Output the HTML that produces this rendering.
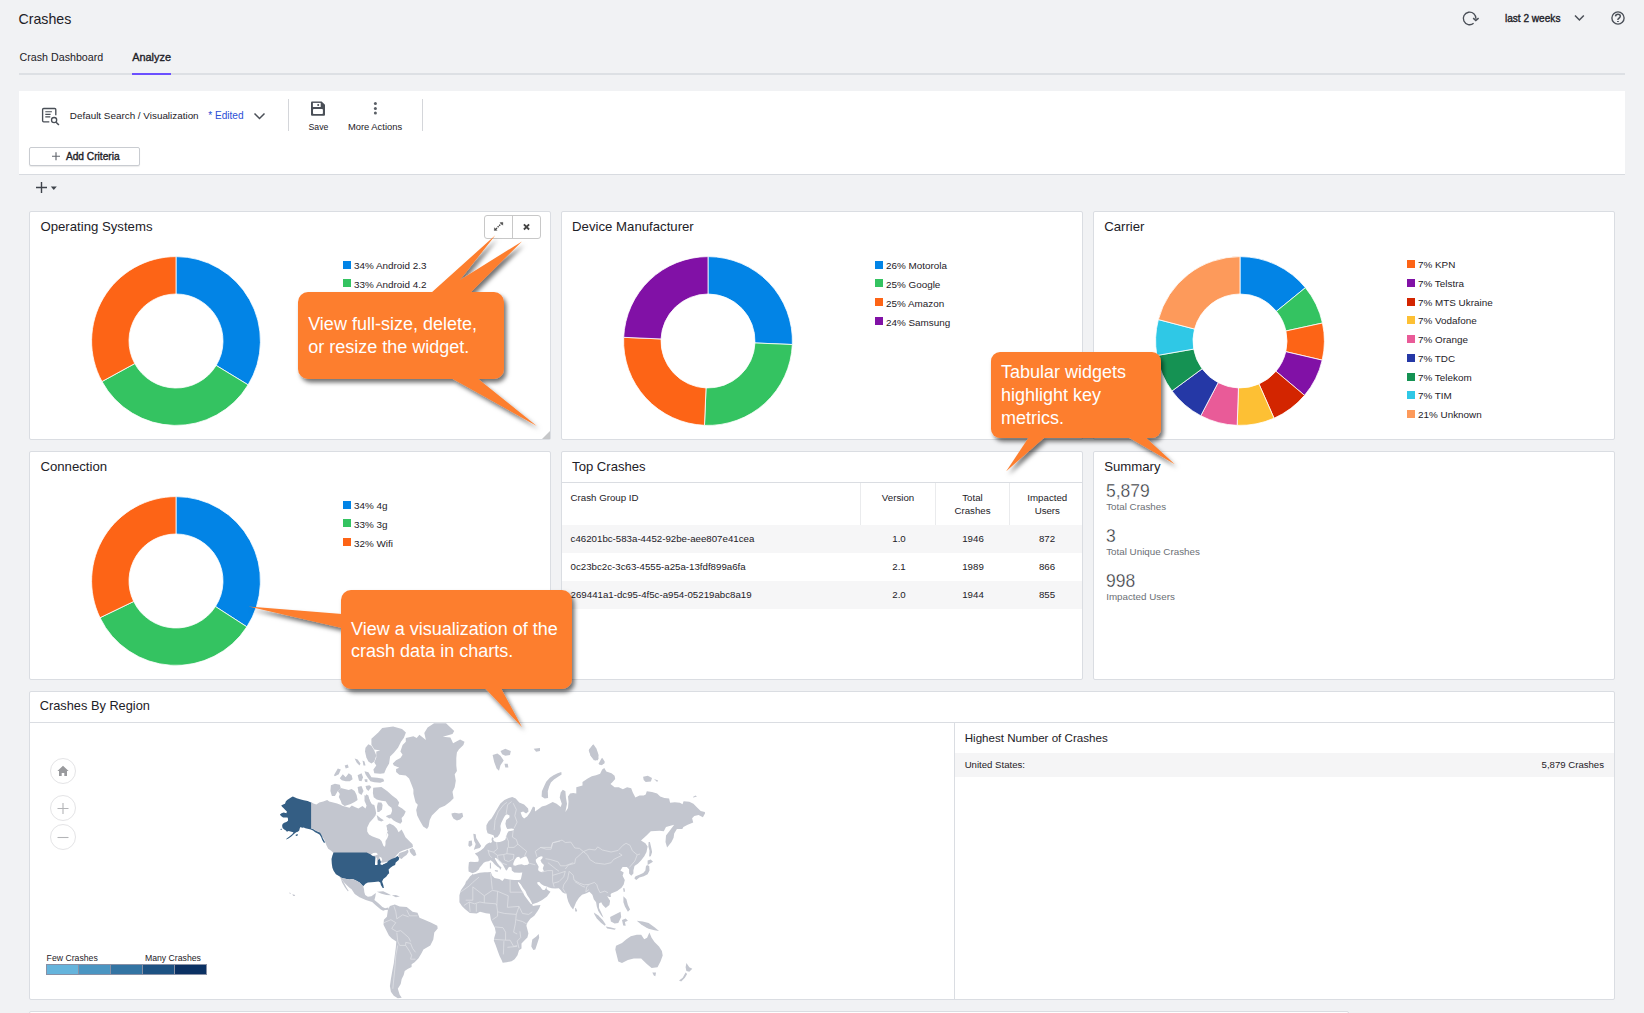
<!DOCTYPE html>
<html><head><meta charset="utf-8"><title>Crashes</title>
<style>
html,body{margin:0;padding:0;}
body{width:1644px;height:1013px;overflow:hidden;background:#f1f2f4;position:relative;font-family:"Liberation Sans", Arial, Helvetica, sans-serif;}
.t{position:absolute;line-height:1;white-space:nowrap;}
.r{position:absolute;}
svg.r{overflow:visible;}
#ov{position:absolute;left:0;top:0;}
</style></head><body>
<div class="t" style="left:18.50px;top:12.08px;font-size:14.2px;color:#1d2127;">Crashes</div>
<div class="t" style="left:19.50px;top:51.74px;font-size:10.7px;color:#1d2127;">Crash Dashboard</div>
<div class="t" style="left:132.20px;top:52.07px;font-size:10.9px;color:#1d2127;-webkit-text-stroke:0.35px #1d2127;">Analyze</div>
<div class="r" style="left:19px;top:73px;width:1606px;height:2px;background:#dde0e4"></div>
<div class="r" style="left:132px;top:73px;width:39px;height:2px;background:#6b50ff"></div>
<svg class="r" style="left:1458px;top:6px" width="26" height="24" viewBox="0 0 26 24">
<path d="M15.6 17.3 A6.3 6.3 0 1 1 17.9 12.9" fill="none" stroke="#4a4f57" stroke-width="1.35"/>
<path d="M15.2 12.1 L17.8 14.6 L20.6 12.1" fill="none" stroke="#4a4f57" stroke-width="1.5" stroke-linejoin="miter"/></svg>
<div class="t" style="left:1504.90px;top:13.85px;font-size:10.1px;color:#1d2127;-webkit-text-stroke:0.35px #1d2127;">last 2 weeks</div>
<svg class="r" style="left:1574px;top:14px" width="11" height="8" viewBox="0 0 11 8">
<path d="M1 1.5 L5.4 6 L9.8 1.5" fill="none" stroke="#4a4f57" stroke-width="1.5"/></svg>
<svg class="r" style="left:1606px;top:6px" width="24" height="24" viewBox="0 0 24 24">
<circle cx="12" cy="12" r="6.1" fill="none" stroke="#4a4f57" stroke-width="1.35"/>
<path d="M9.5 10.4 C9.6 8.9 10.6 8.2 11.9 8.2 C13.3 8.2 14.3 9.1 14.3 10.3 C14.3 11.6 12.9 12 12.2 12.9 C11.9 13.3 11.9 13.7 11.9 14.1" fill="none" stroke="#4a4f57" stroke-width="1.45"/>
<rect x="11" y="15.1" width="1.9" height="0.9" fill="#4a4f57"/></svg>
<div class="r" style="left:19px;top:91px;width:1606px;height:83px;background:#fff;border-bottom:1px solid #d8dbe0"></div>
<svg class="r" style="left:36px;top:102px" width="30" height="28" viewBox="0 0 30 28">
<path d="M19.8 13.3 V7.6 Q19.8 6.5 18.7 6.5 H7.7 Q6.6 6.5 6.6 7.6 V18.7 Q6.6 19.8 7.7 19.8 H13.3" fill="none" stroke="#4a4f57" stroke-width="1.35"/>
<path d="M9.3 9.7 H15.9 M9.3 12.4 H14.6 M9.3 14.9 H14.3" stroke="#4a4f57" stroke-width="1.1"/>
<circle cx="18.1" cy="18.1" r="2.6" fill="none" stroke="#4a4f57" stroke-width="1.3"/>
<path d="M20.1 20.2 L22.9 23.1" stroke="#4a4f57" stroke-width="1.5"/></svg>
<div class="t" style="left:69.80px;top:110.82px;font-size:9.9px;color:#1d2127;">Default Search / Visualization</div>
<div class="t" style="left:208.20px;top:110.65px;font-size:10.1px;color:#2c4fd6;">* Edited</div>
<svg class="r" style="left:253px;top:111px" width="13" height="10" viewBox="0 0 13 10">
<path d="M1.5 2.5 L6.5 7.5 L11.5 2.5" fill="none" stroke="#4a4f57" stroke-width="1.5"/></svg>
<div class="r" style="left:288px;top:99px;width:1px;height:32px;background:#d4d6da"></div>
<div class="r" style="left:422px;top:99px;width:1px;height:32px;background:#d4d6da"></div>
<svg class="r" style="left:306px;top:97px" width="26" height="24" viewBox="0 0 26 24">
<path d="M5 5.4 Q5 4.4 6 4.4 H15.6 L19 7.8 V17.7 Q19 18.7 18 18.7 H6 Q5 18.7 5 17.7 Z" fill="#4a4f57"/>
<rect x="6.9" y="5.9" width="7.8" height="4.1" fill="#fff"/>
<circle cx="12.2" cy="7.9" r="1" fill="#4a4f57"/>
<rect x="7" y="12.1" width="9.9" height="5" rx="0.8" fill="#fff"/></svg>
<div class="t" style="left:308.50px;top:122.84px;font-size:8.7px;color:#1d2127;">Save</div>
<svg class="r" style="left:372px;top:100px" width="7" height="17" viewBox="0 0 7 17">
<circle cx="3.4" cy="3.6" r="1.5" fill="#5a5f66"/><circle cx="3.4" cy="8.5" r="1.5" fill="#5a5f66"/><circle cx="3.4" cy="13.1" r="1.5" fill="#5a5f66"/></svg>
<div class="t" style="left:347.90px;top:122.24px;font-size:9.4px;color:#1d2127;">More Actions</div>
<div class="r" style="left:29px;top:147px;width:109px;height:17px;background:#fff;border:1px solid #c9ccd1;border-radius:2px;box-shadow:0 1px 1px rgba(0,0,0,0.08)"></div>
<svg class="r" style="left:51px;top:151px" width="10" height="10" viewBox="0 0 10 10">
<path d="M5 1.2 V9.2 M1 5.2 H9" stroke="#62666d" stroke-width="1.15"/></svg>
<div class="t" style="left:65.90px;top:151.57px;font-size:10.2px;color:#1d2127;-webkit-text-stroke:0.35px #1d2127;">Add Criteria</div>
<svg class="r" style="left:35px;top:181px" width="24" height="13" viewBox="0 0 24 13">
<path d="M6.5 1 V12 M1 6.5 H12" stroke="#3f444b" stroke-width="1.4"/>
<path d="M15.8 5.4 H21.8 L18.8 9 Z" fill="#3f444b"/></svg>
<div class="r" style="left:29px;top:211px;width:520px;height:227px;background:#fff;border:1px solid #dadde2;border-radius:2px"></div>
<div class="r" style="left:561px;top:211px;width:520px;height:227px;background:#fff;border:1px solid #dadde2;border-radius:2px"></div>
<div class="r" style="left:1093px;top:211px;width:520px;height:227px;background:#fff;border:1px solid #dadde2;border-radius:2px"></div>
<div class="r" style="left:29px;top:451px;width:520px;height:227px;background:#fff;border:1px solid #dadde2;border-radius:2px"></div>
<div class="r" style="left:561px;top:451px;width:520px;height:227px;background:#fff;border:1px solid #dadde2;border-radius:2px"></div>
<div class="r" style="left:1093px;top:451px;width:520px;height:227px;background:#fff;border:1px solid #dadde2;border-radius:2px"></div>
<div class="r" style="left:29px;top:691px;width:1584px;height:307px;background:#fff;border:1px solid #dadde2;border-radius:2px"></div>
<div class="r" style="left:29px;top:1011px;width:1318px;height:38px;background:#fff;border:1px solid #dadde2;border-radius:2px"></div>
<div class="r" style="left:343px;top:261px;width:8px;height:8px;background:#0284e6"></div>
<div class="t" style="left:354.00px;top:261.42px;font-size:9.9px;color:#1d2127;">34% Android 2.3</div>
<div class="r" style="left:343px;top:279px;width:8px;height:8px;background:#34c361"></div>
<div class="t" style="left:354.00px;top:280.25px;font-size:9.9px;color:#1d2127;">33% Android 4.2</div>
<div class="r" style="left:875px;top:261px;width:8px;height:8px;background:#0284e6"></div>
<div class="t" style="left:886.00px;top:261.42px;font-size:9.9px;color:#1d2127;">26% Motorola</div>
<div class="r" style="left:875px;top:279px;width:8px;height:8px;background:#34c361"></div>
<div class="t" style="left:886.00px;top:280.25px;font-size:9.9px;color:#1d2127;">25% Google</div>
<div class="r" style="left:875px;top:298px;width:8px;height:8px;background:#fd6416"></div>
<div class="t" style="left:886.00px;top:299.08px;font-size:9.9px;color:#1d2127;">25% Amazon</div>
<div class="r" style="left:875px;top:317px;width:8px;height:8px;background:#8111a6"></div>
<div class="t" style="left:886.00px;top:317.91px;font-size:9.9px;color:#1d2127;">24% Samsung</div>
<div class="r" style="left:1407px;top:260px;width:8px;height:8px;background:#fd6416"></div>
<div class="t" style="left:1418.00px;top:260.22px;font-size:9.9px;color:#1d2127;">7% KPN</div>
<div class="r" style="left:1407px;top:279px;width:8px;height:8px;background:#8111a6"></div>
<div class="t" style="left:1418.00px;top:278.94px;font-size:9.9px;color:#1d2127;">7% Telstra</div>
<div class="r" style="left:1407px;top:298px;width:8px;height:8px;background:#d32500"></div>
<div class="t" style="left:1418.00px;top:297.66px;font-size:9.9px;color:#1d2127;">7% MTS Ukraine</div>
<div class="r" style="left:1407px;top:316px;width:8px;height:8px;background:#fdc034"></div>
<div class="t" style="left:1418.00px;top:316.38px;font-size:9.9px;color:#1d2127;">7% Vodafone</div>
<div class="r" style="left:1407px;top:335px;width:8px;height:8px;background:#e95b98"></div>
<div class="t" style="left:1418.00px;top:335.10px;font-size:9.9px;color:#1d2127;">7% Orange</div>
<div class="r" style="left:1407px;top:354px;width:8px;height:8px;background:#2538a6"></div>
<div class="t" style="left:1418.00px;top:353.82px;font-size:9.9px;color:#1d2127;">7% TDC</div>
<div class="r" style="left:1407px;top:373px;width:8px;height:8px;background:#159253"></div>
<div class="t" style="left:1418.00px;top:372.54px;font-size:9.9px;color:#1d2127;">7% Telekom</div>
<div class="r" style="left:1407px;top:391px;width:8px;height:8px;background:#2fc8e6"></div>
<div class="t" style="left:1418.00px;top:391.26px;font-size:9.9px;color:#1d2127;">7% TIM</div>
<div class="r" style="left:1407px;top:410px;width:8px;height:8px;background:#fd9a5b"></div>
<div class="t" style="left:1418.00px;top:409.98px;font-size:9.9px;color:#1d2127;">21% Unknown</div>
<div class="r" style="left:343px;top:501px;width:8px;height:8px;background:#0284e6"></div>
<div class="t" style="left:354.00px;top:501.42px;font-size:9.9px;color:#1d2127;">34% 4g</div>
<div class="r" style="left:343px;top:519px;width:8px;height:8px;background:#34c361"></div>
<div class="t" style="left:354.00px;top:520.25px;font-size:9.9px;color:#1d2127;">33% 3g</div>
<div class="r" style="left:343px;top:538px;width:8px;height:8px;background:#fd6416"></div>
<div class="t" style="left:354.00px;top:539.08px;font-size:9.9px;color:#1d2127;">32% Wifi</div>
<div class="t" style="left:40.40px;top:219.83px;font-size:13.2px;color:#1d2127;">Operating Systems</div>
<div class="t" style="left:572.10px;top:219.83px;font-size:13.2px;color:#1d2127;">Device Manufacturer</div>
<div class="t" style="left:1104.20px;top:219.83px;font-size:13.2px;color:#1d2127;">Carrier</div>
<div class="t" style="left:40.40px;top:460.03px;font-size:13.2px;color:#1d2127;">Connection</div>
<div class="t" style="left:572.10px;top:460.11px;font-size:13.1px;color:#1d2127;">Top Crashes</div>
<div class="t" style="left:1104.20px;top:460.03px;font-size:13.2px;color:#1d2127;">Summary</div>
<div class="t" style="left:39.70px;top:699.76px;font-size:12.8px;color:#1d2127;">Crashes By Region</div>
<div class="r" style="left:484px;top:215px;width:55px;height:22px;background:#fff;border:1px solid #c8c8c8;border-radius:3px"></div>
<div class="r" style="left:512px;top:216px;width:1px;height:22px;background:#c8c8c8"></div>
<svg class="r" style="left:492px;top:220px" width="13" height="13" viewBox="0 0 13 13">
<path d="M4.1 8.8 L9.1 3.8" stroke="#444" stroke-width="1.4" stroke-dasharray="1.3 0.9"/>
<path d="M10.9 2.4 L8.1 2.6 L10.7 5.2 Z" fill="#444" stroke="#444" stroke-width="0.4"/><path d="M2.3 10.5 L2.5 7.7 L5.1 10.3 Z" fill="#444" stroke="#444" stroke-width="0.4"/></svg>
<svg class="r" style="left:521px;top:222px" width="11" height="11" viewBox="0 0 11 11">
<path d="M2.9 2.3 L8.1 7.5 M8.1 2.3 L2.9 7.5" stroke="#444" stroke-width="1.85"/></svg>
<svg class="r" style="left:540px;top:429px" width="11" height="11" viewBox="0 0 11 11"><path d="M2 10 L10 10 L10 2 Z" fill="#c6c7c9"/></svg>
<div class="r" style="left:562px;top:482px;width:520px;height:1px;background:#dadde2"></div>
<div class="r" style="left:860px;top:483px;width:1px;height:42px;background:#eaebed"></div>
<div class="r" style="left:935px;top:483px;width:1px;height:42px;background:#eaebed"></div>
<div class="r" style="left:1009px;top:483px;width:1px;height:42px;background:#eaebed"></div>
<div class="r" style="left:562px;top:525px;width:520px;height:28px;background:#f6f6f7"></div>
<div class="r" style="left:562px;top:581px;width:520px;height:28px;background:#f6f6f7"></div>
<div class="t" style="left:570.60px;top:492.69px;font-size:9.7px;color:#1d2127;">Crash Group ID</div>
<div class="t" style="left:798.00px;width:200px;text-align:center;top:492.69px;font-size:9.7px;color:#1d2127;">Version</div>
<div class="t" style="left:872.50px;width:200px;text-align:center;top:493.19px;font-size:9.7px;color:#1d2127;">Total</div>
<div class="t" style="left:872.50px;width:200px;text-align:center;top:505.99px;font-size:9.7px;color:#1d2127;">Crashes</div>
<div class="t" style="left:947.30px;width:200px;text-align:center;top:493.19px;font-size:9.7px;color:#1d2127;">Impacted</div>
<div class="t" style="left:947.30px;width:200px;text-align:center;top:505.99px;font-size:9.7px;color:#1d2127;">Users</div>
<div class="t" style="left:570.60px;top:533.79px;font-size:9.7px;color:#1d2127;">c46201bc-583a-4452-92be-aee807e41cea</div>
<div class="t" style="left:799.00px;width:200px;text-align:center;top:533.79px;font-size:9.7px;color:#1d2127;">1.0</div>
<div class="t" style="left:873.00px;width:200px;text-align:center;top:533.79px;font-size:9.7px;color:#1d2127;">1946</div>
<div class="t" style="left:947.00px;width:200px;text-align:center;top:533.79px;font-size:9.7px;color:#1d2127;">872</div>
<div class="t" style="left:570.60px;top:561.69px;font-size:9.7px;color:#1d2127;">0c23bc2c-3c63-4555-a25a-13fdf899a6fa</div>
<div class="t" style="left:799.00px;width:200px;text-align:center;top:561.69px;font-size:9.7px;color:#1d2127;">2.1</div>
<div class="t" style="left:873.00px;width:200px;text-align:center;top:561.69px;font-size:9.7px;color:#1d2127;">1989</div>
<div class="t" style="left:947.00px;width:200px;text-align:center;top:561.69px;font-size:9.7px;color:#1d2127;">866</div>
<div class="t" style="left:570.60px;top:589.59px;font-size:9.7px;color:#1d2127;">269441a1-dc95-4f5c-a954-05219abc8a19</div>
<div class="t" style="left:799.00px;width:200px;text-align:center;top:589.59px;font-size:9.7px;color:#1d2127;">2.0</div>
<div class="t" style="left:873.00px;width:200px;text-align:center;top:589.59px;font-size:9.7px;color:#1d2127;">1944</div>
<div class="t" style="left:947.00px;width:200px;text-align:center;top:589.59px;font-size:9.7px;color:#1d2127;">855</div>
<div class="t" style="left:1106.00px;top:483.39px;font-size:17.5px;color:#2a2e34;-webkit-text-stroke:0.35px #fff;">5,879</div>
<div class="t" style="left:1106.20px;top:501.80px;font-size:9.8px;color:#6b6f75;">Total Crashes</div>
<div class="t" style="left:1106.00px;top:528.09px;font-size:17.5px;color:#2a2e34;-webkit-text-stroke:0.35px #fff;">3</div>
<div class="t" style="left:1106.20px;top:546.75px;font-size:9.8px;color:#6b6f75;">Total Unique Crashes</div>
<div class="t" style="left:1106.00px;top:572.79px;font-size:17.5px;color:#2a2e34;-webkit-text-stroke:0.35px #fff;">998</div>
<div class="t" style="left:1106.20px;top:591.70px;font-size:9.8px;color:#6b6f75;">Impacted Users</div>
<div class="r" style="left:30px;top:722px;width:1584px;height:1px;background:#dadde2"></div>
<div class="r" style="left:954px;top:723px;width:1px;height:276px;background:#dadde2"></div>
<div class="t" style="left:964.70px;top:732.18px;font-size:11.6px;color:#1d2127;">Highest Number of Crashes</div>
<div class="r" style="left:955px;top:753px;width:659px;height:24px;background:#f5f5f6"></div>
<div class="t" style="left:964.70px;top:760.47px;font-size:9.6px;color:#1d2127;">United States:</div>
<div class="t" style="left:1204.00px;width:400px;text-align:right;top:760.47px;font-size:9.6px;color:#1d2127;">5,879 Crashes</div>
<div class="r" style="left:49.5px;top:757.5px;width:26px;height:26px;background:#fff;border:1px solid #e4e4e6;border-radius:50%;box-sizing:border-box"></div>
<div class="r" style="left:49.5px;top:794.5px;width:26px;height:26px;background:#fff;border:1px solid #e4e4e6;border-radius:50%;box-sizing:border-box"></div>
<div class="r" style="left:49.5px;top:823.5px;width:26px;height:26px;background:#fff;border:1px solid #e4e4e6;border-radius:50%;box-sizing:border-box"></div>
<svg class="r" style="left:56px;top:764px" width="14" height="14" viewBox="0 0 14 14"><path d="M7 1.8 L12.6 7 H11 V12 H8.3 V9 H5.7 V12 H3 V7 H1.4 Z" fill="#999a9d"/></svg>
<svg class="r" style="left:56px;top:801px" width="14" height="14" viewBox="0 0 14 14"><path d="M7 2 V13 M1.5 7.5 H12.5" stroke="#b3b4b7" stroke-width="1.1"/></svg>
<svg class="r" style="left:56px;top:830px" width="14" height="14" viewBox="0 0 14 14"><path d="M1.5 7.5 H12.5" stroke="#b3b4b7" stroke-width="1.1"/></svg>
<div class="t" style="left:46.60px;top:954.44px;font-size:8.7px;color:#1d2127;font-family:"DejaVu Sans",sans-serif;">Few Crashes</div>
<div class="t" style="left:144.90px;top:954.44px;font-size:8.7px;color:#1d2127;font-family:"DejaVu Sans",sans-serif;">Many Crashes</div>
<div class="r" style="left:46px;top:964px;width:161px;height:11px;background:#8890a5"></div>
<div class="r" style="left:47px;top:965px;width:31px;height:9px;background:#65b4dc"></div>
<div class="r" style="left:79px;top:965px;width:31px;height:9px;background:#4a95c2"></div>
<div class="r" style="left:111px;top:965px;width:31px;height:9px;background:#3374a3"></div>
<div class="r" style="left:143px;top:965px;width:31px;height:9px;background:#1d5283"></div>
<div class="r" style="left:175px;top:965px;width:31px;height:9px;background:#0b3163"></div>
<svg id="ov" width="1644" height="1013" viewBox="0 0 1644 1013">
<defs><filter id="sh" x="-20%" y="-20%" width="150%" height="160%"><feDropShadow dx="2.5" dy="3.5" stdDeviation="2.2" flood-color="#000" flood-opacity="0.55"/></filter></defs>
<path d="M176.00,256.60 A84.4,84.4 0 0 1 248.12,384.85 L216.16,365.42 A47,47 0 0 0 176.00,294.00 Z" fill="#0284e6" stroke="#fff" stroke-width="0.8" stroke-linejoin="round"/>
<path d="M248.12,384.85 A84.4,84.4 0 0 1 101.97,381.53 L134.77,363.57 A47,47 0 0 0 216.16,365.42 Z" fill="#34c361" stroke="#fff" stroke-width="0.8" stroke-linejoin="round"/>
<path d="M101.97,381.53 A84.4,84.4 0 0 1 176.00,256.60 L176.00,294.00 A47,47 0 0 0 134.77,363.57 Z" fill="#fd6416" stroke="#fff" stroke-width="0.8" stroke-linejoin="round"/>
<path d="M708.00,256.60 A84.4,84.4 0 0 1 792.33,344.53 L754.96,342.97 A47,47 0 0 0 708.00,294.00 Z" fill="#0284e6" stroke="#fff" stroke-width="0.8" stroke-linejoin="round"/>
<path d="M792.33,344.53 A84.4,84.4 0 0 1 704.47,425.33 L706.03,387.96 A47,47 0 0 0 754.96,342.97 Z" fill="#34c361" stroke="#fff" stroke-width="0.8" stroke-linejoin="round"/>
<path d="M704.47,425.33 A84.4,84.4 0 0 1 623.68,337.32 L661.04,338.95 A47,47 0 0 0 706.03,387.96 Z" fill="#fd6416" stroke="#fff" stroke-width="0.8" stroke-linejoin="round"/>
<path d="M623.68,337.32 A84.4,84.4 0 0 1 708.00,256.60 L708.00,294.00 A47,47 0 0 0 661.04,338.95 Z" fill="#8111a6" stroke="#fff" stroke-width="0.8" stroke-linejoin="round"/>
<path d="M1240.00,256.60 A84.4,84.4 0 0 1 1305.41,287.66 L1276.42,311.29 A47,47 0 0 0 1240.00,294.00 Z" fill="#0284e6" stroke="#fff" stroke-width="0.8" stroke-linejoin="round"/>
<path d="M1305.41,287.66 A84.4,84.4 0 0 1 1322.46,323.02 L1285.92,330.99 A47,47 0 0 0 1276.42,311.29 Z" fill="#34c361" stroke="#fff" stroke-width="0.8" stroke-linejoin="round"/>
<path d="M1322.46,323.02 A84.4,84.4 0 0 1 1322.20,360.13 L1285.78,351.65 A47,47 0 0 0 1285.92,330.99 Z" fill="#fd6416" stroke="#fff" stroke-width="0.8" stroke-linejoin="round"/>
<path d="M1322.20,360.13 A84.4,84.4 0 0 1 1304.56,395.36 L1275.95,371.27 A47,47 0 0 0 1285.78,351.65 Z" fill="#8111a6" stroke="#fff" stroke-width="0.8" stroke-linejoin="round"/>
<path d="M1304.56,395.36 A84.4,84.4 0 0 1 1274.06,418.22 L1258.97,384.00 A47,47 0 0 0 1275.95,371.27 Z" fill="#d32500" stroke="#fff" stroke-width="0.8" stroke-linejoin="round"/>
<path d="M1274.06,418.22 A84.4,84.4 0 0 1 1237.20,425.35 L1238.44,387.97 A47,47 0 0 0 1258.97,384.00 Z" fill="#fdc034" stroke="#fff" stroke-width="0.8" stroke-linejoin="round"/>
<path d="M1237.20,425.35 A84.4,84.4 0 0 1 1200.77,415.73 L1218.15,382.61 A47,47 0 0 0 1238.44,387.97 Z" fill="#e95b98" stroke="#fff" stroke-width="0.8" stroke-linejoin="round"/>
<path d="M1200.77,415.73 A84.4,84.4 0 0 1 1171.98,390.97 L1202.12,368.82 A47,47 0 0 0 1218.15,382.61 Z" fill="#2538a6" stroke="#fff" stroke-width="0.8" stroke-linejoin="round"/>
<path d="M1171.98,390.97 A84.4,84.4 0 0 1 1156.86,355.51 L1193.70,349.08 A47,47 0 0 0 1202.12,368.82 Z" fill="#159253" stroke="#fff" stroke-width="0.8" stroke-linejoin="round"/>
<path d="M1156.86,355.51 A84.4,84.4 0 0 1 1158.36,319.58 L1194.54,329.07 A47,47 0 0 0 1193.70,349.08 Z" fill="#2fc8e6" stroke="#fff" stroke-width="0.8" stroke-linejoin="round"/>
<path d="M1158.36,319.58 A84.4,84.4 0 0 1 1240.00,256.60 L1240.00,294.00 A47,47 0 0 0 1194.54,329.07 Z" fill="#fd9a5b" stroke="#fff" stroke-width="0.8" stroke-linejoin="round"/>
<path d="M176.00,496.60 A84.4,84.4 0 0 1 246.86,626.84 L215.46,606.53 A47,47 0 0 0 176.00,534.00 Z" fill="#0284e6" stroke="#fff" stroke-width="0.8" stroke-linejoin="round"/>
<path d="M246.86,626.84 A84.4,84.4 0 0 1 100.01,617.73 L133.69,601.46 A47,47 0 0 0 215.46,606.53 Z" fill="#34c361" stroke="#fff" stroke-width="0.8" stroke-linejoin="round"/>
<path d="M100.01,617.73 A84.4,84.4 0 0 1 176.00,496.60 L176.00,534.00 A47,47 0 0 0 133.69,601.46 Z" fill="#fd6416" stroke="#fff" stroke-width="0.8" stroke-linejoin="round"/>
<g><path fill="#c3c6cf" d="M311.0,801.9 313.4,803.4 316.4,804.4 319.3,802.4 323.3,801.4 327.2,800.0 329.2,801.4 333.2,802.4 337.1,803.4 341.1,804.9 343.0,806.4 340.0,804.9 343.0,806.1 349.5,807.8 351.8,805.5 355.4,807.2 358.4,808.4 362.5,806.1 365.5,808.4 366.6,805.5 365.5,797.8 366.1,794.2 368.4,795.4 369.6,801.3 372.0,804.3 374.3,804.9 375.5,809.6 376.1,813.2 375.5,815.5 373.2,818.5 369.6,822.6 367.2,827.4 367.2,831.5 369.0,834.5 372.0,836.2 376.6,838.0 379.5,838.9 381.5,840.9 383.5,845.9 385.0,846.8 385.5,843.9 385.5,840.9 387.4,838.0 388.4,835.0 387.4,832.0 386.9,829.1 387.4,826.1 388.4,824.1 386.3,837.3 387.8,831.3 386.3,825.4 389.7,823.4 393.7,825.4 396.7,828.4 398.6,832.3 401.6,829.4 403.6,833.3 405.5,837.3 409.5,841.2 412.5,844.2 413.0,847.1 410.5,848.1 407.5,849.1 403.6,850.3 399.6,852.1 396.7,855.0 393.7,859.0 392.7,861.0 389.7,862.0 385.8,862.5 379.9,862.7 373.9,862.7 370.0,862.7 333.2,854.7 333.2,852.8 331.2,850.8 328.2,848.8 326.3,844.9 324.3,839.4 322.3,837.0 320.3,834.0 318.4,831.5 316.4,831.1 313.4,829.1 311.0,828.1Z"/>
<path fill="#c3c6cf" d="M398.1,855.5 399.6,853.1 402.6,851.9 405.5,851.1 408.0,849.6 408.5,852.1 406.5,855.0 403.6,857.0 401.6,859.0 399.6,858.0Z"/>
<path fill="#c3c6cf" d="M409.5,849.6 412.5,848.1 414.9,850.6 416.4,855.0 413.9,856.2 411.5,854.1 410.0,852.1Z"/>
<path fill="#345e84" d="M292.9,796.4 294.5,797.2 296.7,798.3 300.0,799.2 303.8,800.2 307.6,801.0 311.1,802.4 311.1,828.4 313.0,829.0 315.2,830.6 317.9,831.7 320.1,832.8 321.7,835.5 322.8,838.2 324.1,840.4 325.2,842.5 323.9,842.8 322.2,840.0 321.1,837.1 319.5,834.4 317.3,833.3 315.2,832.2 313.0,830.6 310.8,829.5 308.7,828.9 305.4,828.2 303.8,827.6 302.1,827.8 300.5,826.9 299.7,828.4 299.2,830.6 297.8,831.7 296.2,832.3 294.0,833.9 291.3,836.6 288.0,838.7 285.9,839.6 286.7,838.5 289.7,836.3 292.4,833.9 293.5,832.2 291.3,831.7 288.6,831.1 286.9,831.7 285.9,830.6 284.2,829.5 282.6,827.9 282.1,825.7 282.6,824.1 284.2,822.7 286.4,821.9 288.0,820.8 288.0,818.7 287.5,817.6 285.9,817.6 283.1,817.6 281.0,815.9 279.9,814.6 281.5,813.2 283.7,812.4 286.4,813.2 286.9,811.6 285.3,810.0 283.7,808.3 282.1,806.7 281.2,805.6 283.1,804.5 285.0,803.7 285.9,801.3 287.5,799.7 290.2,798.0 291.8,796.9Z"/>
<path fill="#345e84" d="M295.6,834.7 297.8,834.1 297.5,835.8 295.9,836.0Z"/>
<path fill="#345e84" d="M280.4,829.0 281.8,828.7 281.9,829.8 280.7,829.8Z"/>
<path fill="#c3c6cf" d="M405.8,737.9 413.4,736.3 416.7,737.9 419.4,734.7 425.9,740.1 424.3,733.0 427.6,727.6 434.1,723.3 446.0,723.3 454.2,730.9 452.5,734.1 442.8,736.8 450.4,737.4 453.1,743.3 460.1,739.5 464.5,741.7 463.4,745.0 459.0,749.3 456.9,752.6 456.3,758.0 456.3,765.6 456.9,771.0 454.7,774.3 455.8,780.8 454.7,787.3 452.5,791.7 453.6,798.2 450.4,801.4 444.9,805.8 439.5,808.0 435.2,812.3 431.9,815.6 429.7,819.9 428.6,826.4 427.0,829.1 423.2,826.4 420.0,821.0 417.2,815.6 416.2,810.1 417.8,804.7 415.6,802.5 414.5,798.2 413.4,793.8 413.4,789.5 411.3,784.1 409.1,778.6 405.8,775.4 399.3,774.8 396.1,772.1 396.1,768.9 399.3,767.8 393.9,765.6 392.8,763.4 396.1,760.2 400.4,758.0 402.6,754.7 400.4,751.5 402.6,745.0 405.8,741.7Z"/>
<path fill="#c3c6cf" d="M451.4,813.4 454.7,812.8 459.0,813.4 462.3,812.8 463.2,816.6 460.1,819.4 456.9,820.4 453.6,818.8 452.0,816.1Z"/>
<path fill="#c3c6cf" d="M371.4,738.8 378.3,732.4 382.2,727.9 393.1,726.4 402.0,728.9 405.9,732.4 403.9,737.8 401.0,741.7 398.0,747.7 394.1,752.6 390.1,756.5 389.1,763.4 386.2,768.4 384.2,773.3 380.3,773.8 374.3,773.3 373.4,769.4 376.3,765.4 374.3,762.5 376.3,757.5 376.3,751.6 380.3,750.6 374.3,749.6 371.4,744.7Z"/>
<path fill="#c3c6cf" d="M365.5,747.7 368.4,744.2 371.4,745.7 374.3,750.6 376.3,755.6 374.3,761.5 371.4,763.4 368.4,761.5 366.4,757.5 365.0,751.6Z"/>
<path fill="#c3c6cf" d="M364.5,771.3 368.4,772.3 371.4,777.3 377.3,777.8 383.2,778.7 384.2,781.2 380.3,782.7 374.3,782.2 370.4,781.2 367.4,777.3 365.5,774.3Z"/>
<path fill="#c3c6cf" d="M354.6,758.5 357.6,759.5 360.5,763.4 359.5,765.4 356.6,762.5Z"/>
<path fill="#c3c6cf" d="M362.5,760.5 364.5,761.5 365.5,765.4 363.5,765.4Z"/>
<path fill="#c3c6cf" d="M344.7,765.4 347.7,764.4 348.7,767.4 345.7,768.4Z"/>
<path fill="#c3c6cf" d="M333.9,775.3 337.8,768.4 340.8,769.4 338.8,774.3 334.9,776.3Z"/>
<path fill="#c3c6cf" d="M339.8,778.3 342.8,774.3 345.7,777.3 348.7,773.3 351.6,775.3 352.6,779.2 349.7,781.2 345.7,781.2 341.8,780.2Z"/>
<path fill="#c3c6cf" d="M357.6,775.3 361.5,773.3 363.0,777.3 361.5,781.2 359.0,780.7Z"/>
<path fill="#c3c6cf" d="M364.5,779.2 367.4,779.2 367.4,782.2 365.0,781.7Z"/>
<path fill="#c3c6cf" d="M330.9,785.2 334.9,783.7 339.8,784.7 340.8,788.1 337.8,791.1 334.9,796.0 331.9,796.0 330.4,791.1Z"/>
<path fill="#c3c6cf" d="M337.8,791.1 340.8,788.1 344.7,789.1 348.7,790.1 351.6,789.1 354.6,791.1 356.6,795.0 357.6,800.0 354.6,801.9 350.7,803.9 344.7,805.9 341.8,803.9 340.8,800.9 338.8,797.0 339.8,794.0Z"/>
<path fill="#c3c6cf" d="M357.6,787.1 361.5,786.1 363.5,791.1 361.5,795.0 358.6,793.1Z"/>
<path fill="#c3c6cf" d="M365.5,786.1 369.4,785.2 371.4,787.1 368.4,791.1 366.4,789.1Z"/>
<path fill="#c3c6cf" d="M364.5,795.0 368.4,797.0 371.4,803.9 369.4,807.9 366.4,804.9 364.5,800.9Z"/>
<path fill="#c3c6cf" d="M373.2,787.7 381.4,787.1 387.4,791.2 392.1,795.4 396.8,798.9 399.2,802.5 398.0,806.1 402.2,808.4 405.7,811.4 403.9,815.5 401.6,817.9 402.2,821.4 400.4,823.8 396.2,822.0 393.3,820.3 390.3,817.3 386.8,817.3 386.2,816.1 390.9,814.3 392.1,810.8 391.5,807.8 388.5,805.5 385.6,801.3 381.4,800.7 376.7,799.5 373.7,797.2 372.9,793.0Z"/>
<path fill="#c3c6cf" d="M377.9,802.5 381.4,802.5 382.6,804.9 382.0,809.6 379.1,812.0 377.3,812.0 377.0,806.6Z"/>
<path fill="#c3c6cf" d="M376.7,814.9 380.3,817.9 383.8,820.3 381.4,821.4 377.9,820.3Z"/>
<path fill="#c3c6cf" d="M386.2,816.1 390.3,815.5 391.5,817.9 389.1,818.5Z"/>
<path fill="#345e84" d="M333.6,852.4 366.7,852.4 370.3,854.2 372.6,856.0 375.0,856.6 376.2,859.5 375.0,864.9 377.4,864.9 378.0,860.1 379.7,858.9 380.9,861.9 380.3,864.3 382.1,864.9 385.7,862.5 388.6,860.7 391.6,858.9 395.1,857.8 397.5,856.0 399.3,857.8 398.7,860.1 395.7,862.5 395.1,864.9 392.8,866.1 390.4,867.8 388.6,869.6 389.2,873.2 388.0,874.3 386.2,876.7 383.3,879.1 382.1,881.4 383.3,885.0 383.9,888.0 382.7,888.0 380.9,885.0 380.3,882.6 378.5,881.4 374.4,882.0 371.4,882.3 367.9,882.6 365.5,883.8 363.2,886.2 362.0,885.0 359.6,882.6 357.8,881.4 355.5,880.3 352.5,879.1 349.5,879.4 346.6,879.1 341.8,877.9 338.9,876.1 335.9,874.3 333.6,870.8 332.4,867.8 331.8,863.7 331.5,858.9 332.4,855.4Z"/>
<path fill="#ffffff" d="M370.9,854.8 373.2,853.0 376.2,852.7 378.0,854.2 375.6,855.4 373.2,855.7Z"/>
<path fill="#ffffff" d="M375.6,857.2 376.8,857.8 376.9,862.5 375.7,864.9 375.0,863.7 375.3,859.5Z"/>
<path fill="#ffffff" d="M379.1,856.6 381.5,857.8 382.2,860.1 381.0,861.4 380.3,859.5Z"/>
<path fill="#ffffff" d="M380.9,863.7 383.3,863.1 385.7,861.9 388.3,861.2 387.1,862.6 384.5,863.8 382.1,864.6Z"/>
<path fill="#c3c6cf" d="M338.9,876.1 341.8,877.9 346.6,879.1 349.5,879.4 352.5,879.1 355.5,880.3 357.8,881.4 359.6,882.6 362.0,885.0 363.2,886.2 364.0,889.1 364.3,892.1 365.2,895.1 367.9,896.8 371.4,896.2 373.8,894.5 375.9,893.0 375.3,896.8 374.4,900.0 378.4,903.2 382.4,907.1 385.1,908.2 388.2,907.6 388.9,909.8 385.1,910.1 383.2,910.8 380.8,909.5 376.9,906.3 372.1,901.9 365.8,900.0 359.5,897.2 354.7,894.0 351.6,889.3 349.2,887.4 346.1,884.5 343.7,881.9Z"/>
<path fill="#c3c6cf" d="M340.5,877.6 343.7,882.3 346.5,887.4 348.7,890.9 347.8,891.2 345.0,887.4 342.1,882.6Z"/>
<path fill="#c3c6cf" d="M376.9,891.8 383.2,891.3 387.9,893.4 391.1,895.3 386.3,895.0 381.6,893.7Z"/>
<path fill="#c3c6cf" d="M391.9,895.3 395.8,895.0 399.8,896.5 395.8,897.2Z"/>
<path fill="#c3c6cf" d="M389.9,905.9 394.8,904.4 399.7,906.4 406.7,906.9 412.6,911.8 417.5,912.8 419.5,917.8 424.4,919.7 431.3,922.7 437.3,925.7 437.7,928.6 434.3,932.6 433.3,939.5 430.3,945.4 423.4,949.4 421.5,953.3 418.5,958.2 414.6,962.2 411.6,964.2 411.6,967.1 407.6,969.1 404.7,971.1 403.7,975.0 401.7,979.0 400.7,983.9 397.8,988.8 399.7,994.8 401.7,997.7 397.8,998.2 393.8,995.8 390.9,991.8 389.9,985.9 390.9,979.0 392.3,971.1 393.8,963.2 394.8,955.3 395.8,947.4 396.3,941.5 391.8,938.5 388.9,935.5 385.9,929.6 383.5,924.7 383.9,919.7 386.9,916.8 387.9,909.9Z"/>
<path fill="#c3c6cf" d="M487.6,833.2 486.4,829.2 486.4,825.3 488.6,821.3 491.5,818.4 494.5,813.4 497.4,808.5 500.4,803.6 504.4,800.1 508.8,798.1 512.3,797.1 515.7,798.6 519.2,802.6 524.1,804.6 528.1,808.5 528.5,811.5 526.1,813.4 523.1,811.5 520.6,812.4 522.1,816.4 524.1,818.4 527.1,816.4 530.0,812.4 533.0,806.5 535.0,807.5 535.0,811.5 537.9,809.5 541.9,806.5 545.8,805.5 549.8,803.6 552.7,802.1 556.6,803.8 560.7,806.9 561.8,803.8 559.7,797.6 560.7,792.4 562.8,789.8 565.4,791.3 565.9,797.6 567.0,803.8 565.4,812.1 568.0,807.9 568.5,801.7 568.0,796.5 570.1,793.4 573.2,792.9 576.3,793.4 576.3,787.2 582.5,785.6 582.5,782.0 587.7,778.4 591.8,776.3 596.0,775.3 600.1,773.7 602.2,769.6 604.3,768.0 606.3,771.6 611.5,773.2 614.6,775.8 615.2,778.9 612.6,782.0 610.5,784.1 614.6,787.2 618.8,787.2 622.9,789.3 627.1,787.2 631.2,788.2 632.8,792.4 635.4,797.6 639.5,795.5 643.7,795.5 645.7,794.5 646.8,791.3 652.0,791.9 657.1,793.4 660.2,796.5 664.4,798.1 669.1,798.6 670.1,802.7 674.8,802.2 679.9,802.7 682.5,804.3 683.6,801.2 689.3,801.7 693.4,803.8 697.6,807.9 700.7,811.0 704.8,812.1 705.1,813.3 702.9,817.2 698.6,815.0 694.3,816.1 692.1,818.2 693.2,822.6 687.7,824.8 683.4,826.9 682.3,829.1 676.9,829.1 674.2,833.4 673.6,837.8 671.5,842.1 667.1,847.6 665.5,842.1 666.0,835.6 669.3,831.3 674.2,824.8 670.4,825.8 666.0,826.9 663.8,831.3 659.5,830.7 650.8,831.3 646.5,835.6 641.0,840.5 645.4,843.2 647.6,846.5 646.5,851.9 644.3,856.2 641.0,860.6 637.8,863.8 634.5,866.0 633.4,870.4 633.4,873.6 631.3,875.8 629.1,873.6 629.1,869.3 626.9,867.1 622.6,867.1 620.4,870.4 623.7,872.5 622.6,875.8 624.8,880.1 623.7,884.5 621.5,887.7 617.2,891.0 611.7,893.2 609.0,895.3 606.3,897.5 607.2,896.2 610.1,900.7 609.4,905.1 605.7,908.1 602.7,905.1 601.2,902.2 599.0,903.6 599.0,908.1 601.2,912.5 603.5,917.7 601.2,915.5 598.3,911.0 596.8,906.6 596.1,902.2 593.8,899.2 592.4,894.8 589.4,891.8 586.4,893.3 582.0,894.8 579.0,897.7 576.1,902.2 574.6,905.9 573.1,909.6 570.7,906.5 568.3,901.8 567.1,897.6 566.5,893.5 564.7,893.5 562.4,892.3 560.6,889.9 558.8,888.2 555.3,888.5 551.7,888.2 548.2,887.3 547.0,886.4 546.4,888.2 547.6,889.9 550.5,891.7 548.8,894.1 547.0,896.5 544.6,898.2 542.2,900.0 539.9,901.2 537.5,902.4 534.5,903.6 532.2,904.2 532.8,905.9 535.7,905.6 540.5,905.0 539.3,908.3 537.5,911.3 534.3,915.8 530.3,918.8 527.4,922.7 526.4,925.7 527.4,929.6 528.4,933.6 527.4,937.5 524.4,940.5 521.5,943.4 521.5,948.4 519.0,950.3 517.5,955.3 514.6,959.2 511.6,961.2 506.7,962.2 502.7,962.7 501.7,960.2 499.7,956.3 497.8,951.3 495.8,945.4 493.8,940.5 494.3,937.5 495.8,932.6 494.8,927.6 492.8,923.7 490.9,919.7 489.9,913.8 485.9,913.3 480.0,911.8 476.7,913.5 469.8,913.1 464.9,909.1 461.9,906.1 459.4,902.2 459.4,895.3 460.9,890.3 464.9,884.4 467.8,878.5 464.9,883.4 467.9,879.5 469.9,876.5 472.3,874.6 473.1,873.6 468.6,871.6 468.4,867.6 468.9,862.2 470.4,861.7 474.8,862.0 478.3,861.7 478.8,859.7 478.0,856.8 474.8,853.6 477.8,852.3 480.7,850.4 483.7,847.9 485.7,844.9 487.6,843.5 489.6,842.5 490.5,843.1 492.0,842.1 491.5,839.1 492.5,837.1 494.0,839.1 494.5,838.1 493.5,835.2 490.5,834.2Z"/>
<path fill="#ffffff" d="M506.9,814.2 509.6,815.4 509.4,817.5 506.2,819.9 505.4,823.7 506.2,826.9 507.3,829.1 511.6,828.6 514.1,829.1 513.3,830.5 508.6,831.3 507.3,833.2 506.2,836.3 505.4,839.5 502.9,841.1 499.7,841.9 496.6,842.3 494.1,841.2 493.1,839.5 494.4,838.1 497.5,837.1 499.7,834.0 500.9,830.0 500.4,826.1 501.2,822.9 503.5,818.2 505.1,815.4Z"/>
<path fill="#ffffff" d="M472.3,873.3 475.8,872.1 478.8,869.6 479.7,867.6 481.7,865.2 483.7,862.7 485.7,861.7 488.6,861.2 490.6,860.2 492.6,861.7 494.6,864.2 497.5,866.7 499.5,868.1 500.1,870.1 501.0,868.4 501.5,867.6 499.5,865.7 497.5,863.2 496.0,860.7 494.8,858.5 495.5,857.8 497.5,859.0 500.5,861.7 502.9,864.7 504.4,867.6 506.2,870.8 507.4,869.6 508.4,867.6 509.9,866.7 511.6,867.6 511.8,870.6 514.3,872.6 519.2,872.7 522.3,872.6 521.7,875.5 520.8,879.5 519.2,880.1 514.3,880.0 509.4,879.5 504.4,878.5 502.4,881.0 499.5,879.0 494.6,878.1 492.1,875.5 490.8,872.1 487.6,872.2 484.7,872.2 479.7,872.7 476.3,873.7 473.3,874.6Z"/>
<path fill="#ffffff" d="M513.3,863.2 514.8,859.7 516.8,857.3 519.2,856.8 520.2,858.8 523.2,857.3 526.1,856.3 527.6,858.8 529.1,863.2 527.6,864.7 524.2,865.2 521.7,864.2 518.2,864.7 515.3,865.7 513.3,865.2Z"/>
<path fill="#ffffff" d="M535.7,859.7 538.1,857.4 541.1,856.2 542.8,856.8 542.2,858.6 540.5,860.3 541.6,862.7 544.0,865.1 543.4,866.8 542.8,868.6 544.0,871.6 541.1,871.9 538.7,871.0 538.1,869.2 538.7,866.8 537.5,864.5 536.0,862.1Z"/>
<path fill="#ffffff" d="M518.6,881.9 520.9,884.6 523.0,887.9 525.4,891.1 527.1,895.0 529.5,898.5 531.3,901.8 532.3,904.3 530.9,904.0 529.1,901.8 526.7,898.5 524.5,895.6 523.0,892.6 521.2,889.6 519.4,886.1 517.8,882.8Z"/>
<path fill="#ffffff" d="M537.2,882.2 539.3,881.9 541.1,884.0 544.0,885.8 547.0,886.4 545.8,888.2 544.6,889.9 542.8,889.9 541.6,888.8 540.5,887.0 538.7,885.2 537.5,884.0Z"/>
<path fill="#c3c6cf" d="M473.3,833.7 475.7,834.2 476.2,838.1 478.7,842.1 481.2,846.0 479.7,848.0 475.7,849.0 473.8,850.0 474.7,847.0 475.7,844.0 474.2,841.1 473.8,838.1Z"/>
<path fill="#c3c6cf" d="M468.8,841.1 471.8,840.6 472.3,845.0 469.8,847.0 468.3,845.5Z"/>
<path fill="#c3c6cf" d="M494.6,870.1 498.0,870.4 497.8,871.8 495.5,871.6Z"/>
<path fill="#c3c6cf" d="M489.9,862.7 490.8,862.7 491.1,868.6 489.9,868.6Z"/>
<path fill="#c3c6cf" d="M532.3,939.5 536.3,936.5 538.7,934.1 539.2,937.5 537.3,943.4 535.3,949.4 533.3,949.9 531.3,946.4 531.8,942.4Z"/>
<path fill="#c3c6cf" d="M575.1,907.7 576.0,908.3 577.2,910.7 576.0,911.9 575.1,910.7Z"/>
<path fill="#c3c6cf" d="M648.6,841.9 649.9,842.1 651.4,848.6 652.1,851.9 650.8,856.2 649.2,856.5 649.5,850.8 648.4,846.5Z"/>
<path fill="#c3c6cf" d="M647.6,860.6 650.8,859.5 653.0,861.7 649.7,863.8 647.6,864.9Z"/>
<path fill="#c3c6cf" d="M647.0,864.9 649.2,866.0 649.5,870.4 647.6,874.2 643.8,876.3 639.4,877.4 636.2,879.9 634.3,878.2 635.6,876.3 639.4,874.7 643.2,873.1 645.4,870.4 645.9,866.6Z"/>
<path fill="#c3c6cf" d="M623.1,888.3 624.5,888.3 625.0,891.5 623.7,892.1Z"/>
<path fill="#c3c6cf" d="M607.9,894.3 610.6,894.0 610.9,897.0 608.5,897.0Z"/>
<path fill="#c3c6cf" d="M593.8,912.5 598.3,915.5 602.7,919.9 605.7,924.4 604.9,925.8 601.2,922.9 596.8,918.4 594.6,914.7Z"/>
<path fill="#c3c6cf" d="M605.7,926.6 610.1,927.3 616.0,928.8 614.6,929.7 607.2,928.4Z"/>
<path fill="#c3c6cf" d="M610.1,917.0 616.0,914.0 620.5,911.8 621.2,917.0 618.3,922.9 614.6,923.6 610.9,921.4Z"/>
<path fill="#c3c6cf" d="M622.0,919.9 625.7,918.4 627.9,920.7 624.9,922.1 625.7,925.8 623.2,925.6Z"/>
<path fill="#c3c6cf" d="M623.4,896.2 626.4,899.2 627.9,905.1 630.1,909.6 627.9,911.8 624.9,906.6 623.4,902.2Z"/>
<path fill="#c3c6cf" d="M636.8,920.7 642.7,921.4 648.6,922.9 654.5,927.3 659.0,931.0 654.5,930.3 648.6,928.8 645.7,927.3 641.2,924.4Z"/>
<path fill="#c3c6cf" d="M616.0,945.8 622.0,942.9 626.4,939.2 630.8,936.2 636.8,934.7 641.2,934.7 644.2,939.2 647.1,937.7 649.4,932.5 651.6,937.7 654.5,942.1 659.0,946.6 661.9,951.0 662.7,955.5 660.5,961.4 657.5,967.3 651.6,968.0 647.1,964.3 644.2,961.4 641.2,958.4 633.8,958.4 627.9,959.9 622.0,962.9 618.3,961.4 616.8,955.5 615.3,949.5Z"/>
<path fill="#c3c6cf" d="M652.3,972.5 656.0,972.5 655.3,976.2 653.8,975.4Z"/>
<path fill="#c3c6cf" d="M686.4,962.9 689.3,967.3 692.3,968.8 689.3,971.7 686.4,971.0 685.6,967.3Z"/>
<path fill="#c3c6cf" d="M685.6,972.5 682.7,977.7 679.0,980.6 681.2,981.4 684.9,977.7 687.1,974.0Z"/>
<path fill="#c3c6cf" d="M541.6,796.5 541.9,791.3 544.1,786.2 546.2,781.8 549.8,777.7 553.5,775.3 557.6,773.2 561.3,771.9 561.6,774.5 558.1,776.8 554.0,779.4 550.9,782.5 549.1,786.7 547.8,791.3 548.1,798.1 544.7,798.4Z"/>
<path fill="#c3c6cf" d="M588.7,750.4 593.4,744.2 596.5,748.8 598.6,755.1 598.0,760.2 593.9,760.2 590.8,756.1Z"/>
<path fill="#c3c6cf" d="M599.1,764.9 602.2,757.7 604.8,761.8 603.2,763.9Z"/>
<path fill="#c3c6cf" d="M643.1,776.8 647.8,775.8 652.0,777.9 650.9,781.5 645.7,782.0 643.7,779.9Z"/>
<path fill="#c3c6cf" d="M654.0,778.9 658.2,780.5 657.1,782.0Z"/>
<path fill="#c3c6cf" d="M692.9,797.0 695.5,795.5 697.0,796.5 693.4,797.6Z"/>
<path fill="#c3c6cf" d="M492.6,755.0 497.4,753.4 500.5,755.8 503.7,760.5 500.5,765.3 499.0,770.8 496.6,768.4 494.2,762.1Z"/>
<path fill="#c3c6cf" d="M500.5,751.1 505.3,748.7 510.8,751.1 510.0,755.0 505.3,755.8 502.1,754.2Z"/>
<path fill="#c3c6cf" d="M504.5,763.7 507.7,763.7 508.4,767.6 505.3,767.6Z"/>
<path fill="#c3c6cf" d="M533.7,748.7 540.0,747.9 540.0,751.1 536.1,751.8Z"/>
<path fill="#c3c6cf" d="M589.0,749.5 592.9,744.7 596.9,751.1 598.5,759.0 595.3,760.5 590.6,755.8Z"/>
<path fill="#c3c6cf" d="M598.5,763.7 601.6,758.2 604.8,762.9 601.6,765.3Z"/>
<path fill="#c3c6cf" d="M289.2,892.6 290.6,892.9 291.0,893.8 289.6,893.6Z"/>
<path fill="#c3c6cf" d="M292.2,894.2 294.6,894.8 295.2,896.0 293.4,896.0Z"/>
<path fill="none" stroke="#e2e4e8" stroke-width="0.7" stroke-linejoin="round" d="M479.0,877.1 472.8,882.4 469.2,886.0 460.3,892.2 M490.5,872.7 491.4,880.7 492.3,889.5 M510.1,879.8 510.1,892.2 523.4,892.2 M465.7,900.2 472.8,900.2 472.8,886.9 484.3,895.8 492.3,890.4 497.6,891.3 508.3,895.8 M497.6,891.3 496.8,905.5 495.9,903.8 484.3,902.9 484.3,895.8 M508.3,895.8 507.4,907.3 519.0,906.4 522.5,913.5 528.7,914.4 532.3,911.8 M463.9,905.5 469.2,902.0 474.5,903.8 479.9,902.0 484.3,902.9 M469.2,902.0 470.1,911.8 M476.3,903.8 476.3,911.8 M496.8,905.5 497.6,911.8 497.6,916.2 492.3,919.8 M497.6,911.8 504.8,913.5 516.3,914.4 519.0,906.4 M516.3,914.4 515.4,923.3 513.6,932.2 517.2,934.0 M495.0,926.9 503.0,927.7 505.6,932.2 505.6,940.2 M494.1,939.3 505.6,940.2 510.1,940.2 513.6,946.4 517.2,945.5 M503.9,941.1 503.4,954.4 M527.0,924.2 522.5,921.5 516.3,919.8 M519.9,931.3 520.7,937.5 517.2,941.1 519.0,948.2 M507.4,947.3 517.2,946.4 M494.2,830.0 495.0,820.5 498.2,811.8 503.7,804.7 506.9,802.4 M506.1,814.2 507.6,804.7 511.6,801.6 M514.0,828.4 517.1,822.1 514.8,815.8 516.3,809.5 513.2,803.2 M513.2,830.4 512.4,837.1 516.3,839.5 517.9,844.2 514.0,847.4 508.4,847.4 M508.4,847.4 508.4,841.1 506.1,836.3 M496.6,842.3 497.4,849.0 493.4,852.1 487.9,850.6 M517.9,844.2 526.6,851.3 524.2,856.9 M507.6,847.4 506.9,853.7 514.0,854.5 513.2,859.2 M487.9,849.8 489.5,855.3 491.8,857.7 M493.4,852.1 497.4,855.3 503.7,854.5 506.9,853.7 M497.4,855.3 498.2,860.0 502.1,863.2 506.9,864.8 M503.7,854.5 504.5,860.0 508.4,861.6 513.2,859.2 M535.3,851.3 540.8,847.4 551.1,847.4 552.7,842.7 560.0,841.1 M535.3,851.3 536.9,856.9 M529.0,863.2 535.3,864.8 M540.0,847.3 546.3,849.2 551.1,849.2 552.6,842.9 562.1,840.1 565.3,842.5 570.8,842.1 574.8,848.0 579.5,848.4 583.4,851.6 589.0,849.2 595.3,850.0 597.7,846.9 602.4,850.0 611.1,852.0 618.2,850.4 622.9,845.3 626.1,843.3 630.0,845.3 632.4,850.8 637.2,854.8 640.0,854.0 M583.4,851.6 587.4,854.8 589.8,859.5 595.3,863.0 604.8,864.2 611.1,862.7 613.5,859.5 622.1,855.2 619.0,853.2 M637.2,854.8 634.8,861.1 629.3,867.4 M583.4,851.6 575.5,858.7 574.8,863.4 568.4,865.0 565.3,869.0 M545.5,858.7 550.3,859.5 558.2,861.9 560.5,865.8 565.3,865.8 573.2,862.7 M547.9,862.7 555.8,869.0 559.0,871.3 M552.6,870.6 552.6,881.6 554.2,887.1 M552.6,875.3 558.2,873.7 565.3,871.3 563.7,876.9 559.0,881.6 553.4,883.2 M569.2,871.3 568.4,875.3 567.6,879.2 563.7,884.8 562.9,888.7 565.3,892.7 M569.2,871.3 573.2,875.3 574.0,880.0 579.5,883.2 584.2,884.8 589.0,884.4 594.5,882.4 596.9,884.8 597.7,887.9 M574.8,881.6 582.7,886.4 585.0,887.1 M597.7,887.9 600.0,892.7 604.8,891.1 607.9,892.7 M589.0,884.4 586.6,887.1 585.8,891.9 589.0,889.5 M541.6,872.1 547.9,870.6 552.6,870.6 M393.8,905.9 395.8,911.8 396.8,918.8 402.7,914.8 408.6,916.8 M406.7,909.9 409.6,915.8 417.5,915.8 M383.9,922.7 390.9,919.7 395.8,922.7 392.8,926.7 391.8,928.6 M391.8,928.6 396.8,931.6 400.7,930.6 408.6,937.5 410.6,941.5 M396.8,932.6 397.8,941.5 399.7,945.4 M399.7,945.4 405.7,945.4 405.7,942.4 410.6,943.4 412.6,948.4 415.5,952.3 M405.7,945.4 409.6,951.3 411.6,955.3 M411.6,955.3 410.6,959.2 415.5,959.2 M397.8,945.4 395.8,955.3 394.8,969.1 393.8,979.0 392.8,988.8"/></g>
<g fill="#fd7e2f" filter="url(#sh)"><rect x="298" y="292" width="206" height="87" rx="10" ry="10"/><polygon points="431,293 495.3,235.2 460,280 521.9,241.4 470,293"/><polygon points="451,378 536.8,426 477,378"/></g>
<g fill="#fd7e2f" filter="url(#sh)"><rect x="991" y="352" width="170" height="86" rx="9" ry="9"/><polygon points="1029,437 1006.2,471.3 1045,437"/><polygon points="1127.8,437 1174.8,464.3 1145.1,437"/></g>
<g fill="#fd7e2f" filter="url(#sh)"><rect x="341" y="590" width="231" height="99" rx="10" ry="10"/><polygon points="342,614 248.5,606.6 342,628"/><polygon points="484.8,688 522.1,727.3 500.8,688"/></g>
</svg>
<div class="t" style="left:308.20px;top:314.96px;font-size:18px;color:#fff;">View full-size, delete,</div>
<div class="t" style="left:308.20px;top:337.76px;font-size:18px;color:#fff;">or resize the widget.</div>
<div class="t" style="left:1001.00px;top:362.76px;font-size:18px;color:#fff;">Tabular widgets</div>
<div class="t" style="left:1001.00px;top:385.96px;font-size:18px;color:#fff;">highlight key</div>
<div class="t" style="left:1001.00px;top:409.06px;font-size:18px;color:#fff;">metrics.</div>
<div class="t" style="left:351.10px;top:619.66px;font-size:18px;color:#fff;">View a visualization of the</div>
<div class="t" style="left:351.10px;top:642.46px;font-size:18px;color:#fff;">crash data in charts.</div>
</body></html>
